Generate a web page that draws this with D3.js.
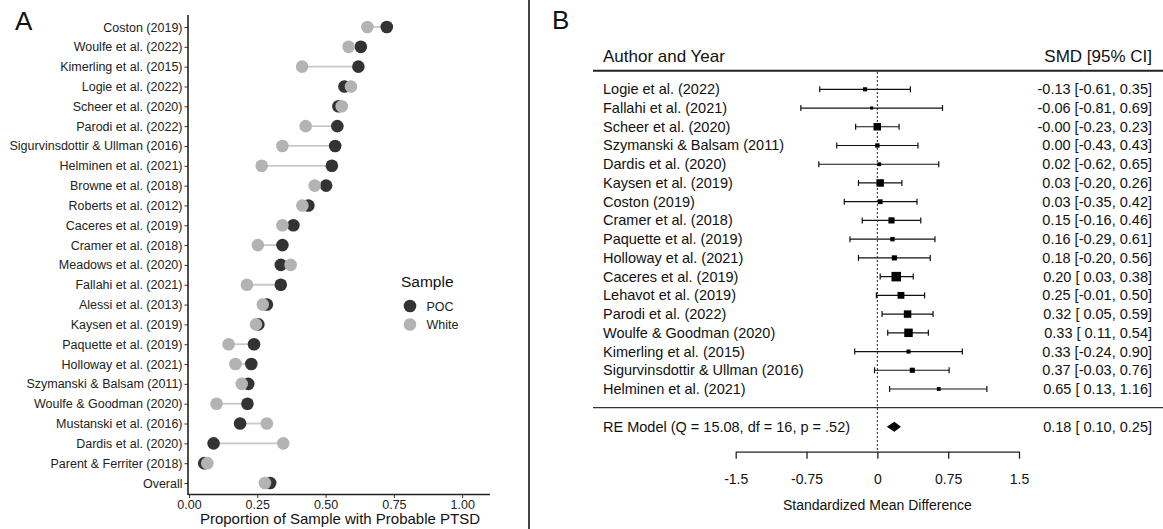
<!DOCTYPE html>
<html>
<head>
<meta charset="utf-8">
<script src="https://cdn.jsdelivr.net/npm/d3@7"></script>
<style>
  html, body { margin: 0; padding: 0; background: #fff; }
  svg { display: block; font-family: "Liberation Sans", Arial, sans-serif; }
</style>
</head>
<body>
<svg id="chart" width="1163" height="529"></svg>
<script>
// ── Panel A data: proportion with probable PTSD ─────────────
const studiesA = [
  'Coston (2019)', 'Woulfe et al. (2022)', 'Kimerling et al. (2015)', 'Logie et al. (2022)',
  'Scheer et al. (2020)', 'Parodi et al. (2022)', 'Sigurvinsdottir & Ullman (2016)',
  'Helminen et al. (2021)', 'Browne et al. (2018)', 'Roberts et al. (2012)',
  'Caceres et al. (2019)', 'Cramer et al. (2018)', 'Meadows et al. (2020)',
  'Fallahi et al. (2021)', 'Alessi et al. (2013)', 'Kaysen et al. (2019)',
  'Paquette et al. (2019)', 'Holloway et al. (2021)', 'Szymanski & Balsam (2011)',
  'Woulfe & Goodman (2020)', 'Mustanski et al. (2016)', 'Dardis et al. (2020)',
  'Parent & Ferriter (2018)', 'Overall'
];
const pocProp = [
  0.724, 0.629, 0.620, 0.569, 0.547, 0.543, 0.535, 0.523, 0.502, 0.437, 0.382, 0.342,
  0.336, 0.336, 0.285, 0.254, 0.238, 0.228, 0.217, 0.214, 0.187, 0.090, 0.056, 0.297
];
const whiteProp = [
  0.653, 0.584, 0.414, 0.593, 0.559, 0.427, 0.342, 0.266, 0.460, 0.415, 0.342, 0.252,
  0.372, 0.212, 0.270, 0.245, 0.145, 0.170, 0.193, 0.101, 0.285, 0.345, 0.067, 0.278
];
const ticksA = [0, 0.25, 0.5, 0.75, 1];

// ── Panel B data: standardized mean differences ─────────────
const studiesB = [
  'Logie et al. (2022)', 'Fallahi et al. (2021)', 'Scheer et al. (2020)',
  'Szymanski & Balsam (2011)', 'Dardis et al. (2020)', 'Kaysen et al. (2019)',
  'Coston (2019)', 'Cramer et al. (2018)', 'Paquette et al. (2019)',
  'Holloway et al. (2021)', 'Caceres et al. (2019)', 'Lehavot et al. (2019)',
  'Parodi et al. (2022)', 'Woulfe & Goodman (2020)', 'Kimerling et al. (2015)',
  'Sigurvinsdottir & Ullman (2016)', 'Helminen et al. (2021)'
];
const smd   = [-0.13, -0.06, -0.001, 0.00, 0.02, 0.03, 0.03, 0.15, 0.16, 0.18, 0.20, 0.25, 0.32, 0.33, 0.33, 0.37, 0.65];
const ciLow = [-0.61, -0.81, -0.23, -0.43, -0.62, -0.20, -0.35, -0.16, -0.29, -0.20, 0.03, -0.01, 0.05, 0.11, -0.24, -0.03, 0.13];
const ciUp  = [0.35, 0.69, 0.23, 0.43, 0.65, 0.26, 0.42, 0.46, 0.61, 0.56, 0.38, 0.50, 0.59, 0.54, 0.90, 0.76, 1.16];
const weight = [2.8, 1.6, 9.3, 3.2, 2.4, 9.3, 3.8, 6.3, 3.2, 4.4, 15.1, 7.8, 9.3, 12.0, 2.8, 4.4, 2.4];
const pooled = { est: 0.18, lo: 0.10, hi: 0.25, label: 'RE Model (Q = 15.08, df = 16, p = .52)' };
const ticksB = [-1.5, -0.75, 0, 0.75, 1.5];

const svg = d3.select('#chart');
const DARK = '#333333', LIGHT = '#b3b3b3';

// ═══════════════ Panel A ═══════════════
const xA = d3.scaleLinear().domain([0, 1.1]).range([189, 489.5]);
const yA = d3.scalePoint().domain(studiesA).range([27, 483]);

svg.append('text').attr('x', 15).attr('y', 30)
  .attr('font-size', 26).attr('fill', '#111').text('A');

const gA = svg.append('g');

// connecting segments
gA.selectAll('.seg').data(studiesA).join('line')
  .attr('x1', (d, i) => xA(pocProp[i])).attr('x2', (d, i) => xA(whiteProp[i]))
  .attr('y1', d => yA(d)).attr('y2', d => yA(d))
  .attr('stroke', '#c8c8c8').attr('stroke-width', 1.8);

gA.selectAll('.poc').data(studiesA).join('circle')
  .attr('cx', (d, i) => xA(pocProp[i])).attr('cy', d => yA(d))
  .attr('r', 6.3).attr('fill', DARK);

gA.selectAll('.white').data(studiesA).join('circle')
  .attr('cx', (d, i) => xA(whiteProp[i])).attr('cy', d => yA(d))
  .attr('r', 6.3).attr('fill', LIGHT);

// y axis
const yAxisA = gA.append('g').attr('transform', 'translate(188,0)')
  .call(d3.axisLeft(yA).tickSize(3.5).tickPadding(2));
yAxisA.select('.domain').remove();
yAxisA.append('line').attr('x1', 0).attr('x2', 0).attr('y1', 15).attr('y2', 495)
  .attr('stroke', '#222').attr('stroke-width', 1.6);
yAxisA.selectAll('.tick line').attr('stroke', '#333');
yAxisA.selectAll('.tick text').attr('font-size', 12.5).attr('fill', '#222')
  .attr('font-family', '"Liberation Sans", Arial, sans-serif');

// x axis
const xAxisA = gA.append('g').attr('transform', 'translate(0,494.5)')
  .call(d3.axisBottom(xA).tickValues(ticksA).tickFormat(d3.format('.2f')).tickSize(3.5).tickSizeOuter(0).tickPadding(2));
xAxisA.select('.domain').attr('d', 'M188,0H490').attr('stroke', '#222').attr('stroke-width', 1.6);
xAxisA.selectAll('.tick line').attr('stroke', '#333');
xAxisA.selectAll('.tick text').attr('font-size', 12.5).attr('fill', '#222')
  .attr('font-family', '"Liberation Sans", Arial, sans-serif');

svg.append('text').attr('x', 340).attr('y', 524).attr('text-anchor', 'middle')
  .attr('font-size', 15).attr('fill', '#111').text('Proportion of Sample with Probable PTSD');

// legend
const legend = svg.append('g').attr('transform', 'translate(401,0)');
legend.append('text').attr('x', 0).attr('y', 287).attr('font-size', 15.5).attr('fill', '#111').text('Sample');
[['POC', DARK], ['White', LIGHT]].forEach(([lab, col], i) => {
  const cy = 306 + i * 18.5;
  legend.append('circle').attr('cx', 9).attr('cy', cy).attr('r', 6.3).attr('fill', col);
  legend.append('text').attr('x', 25.5).attr('y', cy + 4.5).attr('font-size', 12.5).attr('fill', '#222').text(lab);
});

// divider
svg.append('line').attr('x1', 529).attr('x2', 529).attr('y1', 0).attr('y2', 529)
  .attr('stroke', '#444').attr('stroke-width', 2);

// ═══════════════ Panel B ═══════════════
const xB = d3.scaleLinear().domain([-1.5, 1.5]).range([735.7, 1019]);
const yB = d3.scalePoint().domain(d3.range(studiesB.length)).range([89.3, 389]);
const sizeB = d3.scaleSqrt().domain([0, d3.max(weight)]).range([0, 9.5]);
const fmt = v => (v < 0 ? '-' : '') + Math.abs(v).toFixed(2);
const fmtIn = v => (v < 0 ? '-' : ' ') + Math.abs(v).toFixed(2);
const ciText = (e, l, h) => `${fmt(e)} [${fmtIn(l)}, ${fmt(h)}]`;

svg.append('text').attr('x', 552).attr('y', 29)
  .attr('font-size', 26).attr('fill', '#111').text('B');

const gB = svg.append('g');
gB.append('text').attr('x', 603).attr('y', 62).attr('font-size', 17).attr('fill', '#111').text('Author and Year');
gB.append('text').attr('x', 1152).attr('y', 62).attr('text-anchor', 'end')
  .attr('font-size', 17).attr('fill', '#111').text('SMD [95% CI]');
gB.append('line').attr('x1', 593).attr('x2', 1163).attr('y1', 70.7).attr('y2', 70.7)
  .attr('stroke', '#222').attr('stroke-width', 2);
gB.append('line').attr('x1', 593).attr('x2', 1163).attr('y1', 407.7).attr('y2', 407.7)
  .attr('stroke', '#333').attr('stroke-width', 1.3);

// zero reference
gB.append('line').attr('x1', xB(0)).attr('x2', xB(0)).attr('y1', 72).attr('y2', 452)
  .attr('stroke', '#222').attr('stroke-width', 1).attr('stroke-dasharray', '2,2');

const rows = gB.selectAll('.row').data(studiesB).join('g')
  .attr('transform', (d, i) => `translate(0,${yB(i)})`);

rows.append('text').attr('x', 603).attr('y', 5).attr('font-size', 14.5).attr('fill', '#111').text(d => d);
rows.append('text').attr('x', 1152).attr('y', 5).attr('text-anchor', 'end').attr('font-size', 14.5)
  .attr('fill', '#111').style('white-space', 'pre')
  .text((d, i) => ciText(smd[i], ciLow[i], ciUp[i]));
rows.append('line').attr('x1', (d, i) => xB(ciLow[i])).attr('x2', (d, i) => xB(ciUp[i]))
  .attr('y1', 0).attr('y2', 0).attr('stroke', '#111').attr('stroke-width', 1.2);
rows.append('line').attr('x1', (d, i) => xB(ciLow[i])).attr('x2', (d, i) => xB(ciLow[i]))
  .attr('y1', -3).attr('y2', 3).attr('stroke', '#111').attr('stroke-width', 1.2);
rows.append('line').attr('x1', (d, i) => xB(ciUp[i])).attr('x2', (d, i) => xB(ciUp[i]))
  .attr('y1', -3).attr('y2', 3).attr('stroke', '#111').attr('stroke-width', 1.2);
rows.append('rect')
  .attr('x', (d, i) => xB(smd[i]) - sizeB(weight[i]) / 2)
  .attr('y', (d, i) => -sizeB(weight[i]) / 2)
  .attr('width', (d, i) => sizeB(weight[i])).attr('height', (d, i) => sizeB(weight[i]))
  .attr('fill', '#000');

// pooled estimate
const yRE = 426.7;
gB.append('text').attr('x', 603).attr('y', yRE + 5).attr('font-size', 14.5).attr('fill', '#111').text(pooled.label);
gB.append('text').attr('x', 1152).attr('y', yRE + 5).attr('text-anchor', 'end').attr('font-size', 14.5)
  .attr('fill', '#111').style('white-space', 'pre').text(ciText(pooled.est, pooled.lo, pooled.hi));
gB.append('path')
  .attr('d', `M${xB(pooled.lo)},${yRE}L${xB(pooled.est)},${yRE - 5}L${xB(pooled.hi)},${yRE}L${xB(pooled.est)},${yRE + 5}Z`)
  .attr('fill', '#000');

// x axis B
const xAxisB = gB.append('g').attr('transform', 'translate(0,451.7)')
  .call(d3.axisBottom(xB).tickValues(ticksB).tickFormat(d => String(d)).tickSize(7).tickSizeOuter(0).tickPadding(15));
xAxisB.select('.domain').attr('stroke', '#222').attr('stroke-width', 1.3);
xAxisB.selectAll('.tick line').attr('stroke', '#222').attr('stroke-width', 1.3);
xAxisB.selectAll('.tick text').attr('font-size', 14).attr('fill', '#111')
  .attr('font-family', '"Liberation Sans", Arial, sans-serif');

gB.append('text').attr('x', xB(0)).attr('y', 510).attr('text-anchor', 'middle')
  .attr('font-size', 14).attr('fill', '#111').text('Standardized Mean Difference');
</script>
</body>
</html>
